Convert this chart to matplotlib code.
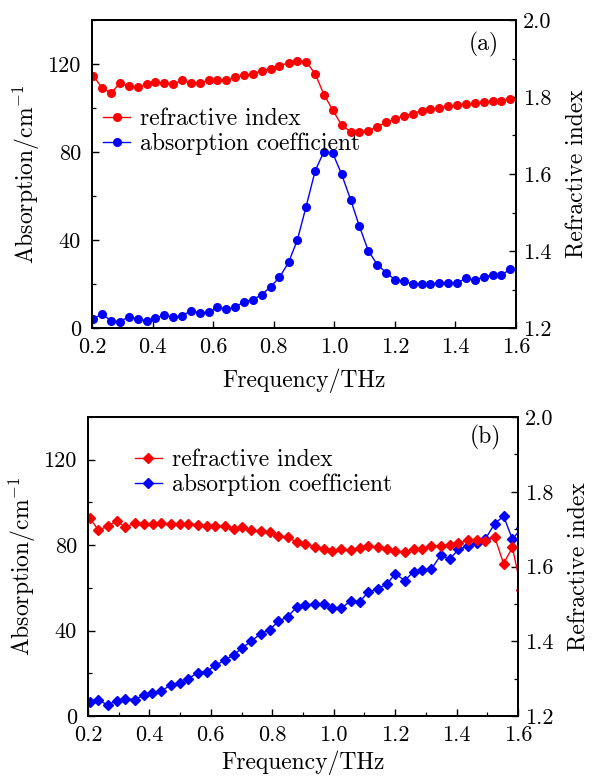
import matplotlib
matplotlib.use("Agg")
import matplotlib.pyplot as plt
from matplotlib.ticker import MultipleLocator

plt.rcParams['font.family'] = ['cmr10', 'DejaVu Serif']
plt.rcParams['mathtext.fontset'] = 'cm'
plt.rcParams['axes.formatter.use_mathtext'] = True
plt.rcParams['axes.unicode_minus'] = False

# ---------------- data: panel (a) ----------------
freq_a = [0.204, 0.233, 0.263, 0.292, 0.321, 0.351, 0.380, 0.409, 0.438, 0.468,
          0.497, 0.526, 0.556, 0.585, 0.614, 0.644, 0.673, 0.702, 0.731, 0.761,
          0.790, 0.819, 0.849, 0.878, 0.907, 0.937, 0.966, 0.995, 1.024, 1.054,
          1.083, 1.112, 1.142, 1.171, 1.200, 1.230, 1.259, 1.288, 1.317, 1.347,
          1.376, 1.405, 1.435, 1.464, 1.493, 1.523, 1.552, 1.581]
n_a = [1.855, 1.824, 1.810, 1.836, 1.828, 1.825, 1.833, 1.839, 1.836, 1.833,
       1.843, 1.837, 1.836, 1.844, 1.844, 1.844, 1.851, 1.856, 1.860, 1.868,
       1.874, 1.881, 1.889, 1.894, 1.892, 1.860, 1.806, 1.766, 1.727, 1.710,
       1.708, 1.712, 1.723, 1.734, 1.743, 1.751, 1.757, 1.764, 1.769, 1.771,
       1.776, 1.778, 1.781, 1.784, 1.786, 1.790, 1.790, 1.794]
abs_a = [4.1, 6.4, 3.3, 2.9, 5.1, 4.1, 3.2, 4.5, 5.8, 4.8,
         5.6, 7.7, 7.0, 7.1, 9.4, 8.6, 9.4, 12.0, 12.9, 15.2,
         18.8, 23.0, 29.8, 40.0, 55.2, 71.5, 80.2, 79.4, 70.0, 58.3,
         46.2, 35.2, 28.8, 25.2, 22.0, 21.2, 20.0, 20.2, 19.8, 20.6,
         20.6, 20.5, 22.6, 21.7, 23.2, 24.1, 24.1, 26.7]

# ---------------- data: panel (b) ----------------
freq_b = [0.205, 0.234, 0.264, 0.293, 0.322, 0.352, 0.381, 0.410, 0.439, 0.469,
          0.498, 0.527, 0.557, 0.586, 0.615, 0.645, 0.674, 0.703, 0.732, 0.762,
          0.791, 0.820, 0.850, 0.879, 0.908, 0.938, 0.967, 0.996, 1.025, 1.055,
          1.084, 1.113, 1.143, 1.172, 1.201, 1.231, 1.260, 1.289, 1.318, 1.348,
          1.377, 1.406, 1.436, 1.465, 1.494, 1.524, 1.553, 1.582, 1.611]
n_b = [1.731, 1.697, 1.708, 1.721, 1.705, 1.716, 1.715, 1.713, 1.717, 1.713,
       1.713, 1.715, 1.711, 1.709, 1.709, 1.708, 1.701, 1.705, 1.697, 1.694,
       1.691, 1.681, 1.679, 1.665, 1.659, 1.653, 1.647, 1.641, 1.647, 1.644,
       1.649, 1.655, 1.651, 1.648, 1.641, 1.639, 1.647, 1.647, 1.655, 1.656,
       1.658, 1.663, 1.670, 1.672, 1.669, 1.679, 1.608, 1.651, 1.537]
abs_b = [6.4, 7.5, 5.1, 7.2, 8.1, 7.6, 9.8, 10.9, 11.5, 14.7,
         15.3, 17.5, 20.3, 20.8, 23.7, 26.1, 28.6, 32.0, 35.1, 38.5,
         40.4, 44.3, 46.5, 50.9, 52.2, 52.3, 52.6, 50.4, 50.4, 54.0,
         53.4, 58.1, 59.5, 61.7, 66.6, 63.4, 67.6, 68.5, 68.8, 75.2,
         73.4, 78.0, 79.6, 81.1, 83.0, 90.0, 93.6, 82.7, 88.0]

xticks = [0.2, 0.4, 0.6, 0.8, 1.0, 1.2, 1.4, 1.6]
lticks = [0, 40, 80, 120]
rticks = [1.2, 1.4, 1.6, 1.8, 2.0]

RED = '#ff0000'
BLUE = '#0000ff'
FS = 16
LFS = 17

fig = plt.figure(figsize=(5.95, 7.77), dpi=100)


def style(ax, ax2, xminor, xpad):
    ax.set_xlim(0.2, 1.6)
    ax.set_ylim(0, 140)
    ax2.set_ylim(1.2, 2.0)
    ax.set_xticks(xticks)
    ax.set_xticklabels([f"{t:.1f}" for t in xticks])
    ax.set_yticks(lticks)
    ax.set_yticklabels([str(t) for t in lticks])
    ax2.set_yticks(rticks)
    ax2.set_yticklabels([f"{t:.1f}" for t in rticks])
    ax.yaxis.set_minor_locator(MultipleLocator(20))
    ax2.yaxis.set_minor_locator(MultipleLocator(0.1))
    if xminor:
        ax.xaxis.set_minor_locator(MultipleLocator(0.1))
    for a in (ax, ax2):
        for s in a.spines.values():
            s.set_linewidth(1.4)
    ax.tick_params(axis='both', which='both', direction='in', labelsize=FS,
                   top=False, right=False)
    ax.tick_params(axis='y', which='major', pad=8)
    ax.tick_params(axis='x', which='major', pad=7)
    ax.tick_params(which='major', length=5, width=1.0)
    ax.tick_params(which='minor', length=3, width=0.9)
    ax2.tick_params(axis='y', which='both', direction='in', labelsize=FS)
    ax2.tick_params(which='major', length=5, width=1.0, pad=5)
    ax2.tick_params(which='minor', length=3, width=0.9)
    ax.set_xlabel('Frequency/THz', fontsize=LFS, labelpad=xpad)
    ax.set_ylabel(r'Absorption/cm$^{-1}$', fontsize=LFS, labelpad=4)
    ax2.set_ylabel('Refractive index', fontsize=LFS, labelpad=11)


# ---------------- panel (a) ----------------
axA = fig.add_axes([92 / 595, 1 - 328 / 777, 424 / 595, 308 / 777])
axA2 = axA.twinx()
lb_a, = axA.plot(freq_a, abs_a, '-o', color=BLUE, lw=1.0, ms=5.5,
                 label='absorption coefficient')
lr_a, = axA2.plot(freq_a, n_a, '-o', color=RED, lw=1.0, ms=5.5,
                  label='refractive index')
style(axA, axA2, xminor=False, xpad=8)
axA2.legend(handles=[lr_a, lb_a], loc='upper left', bbox_to_anchor=(0.026, 0.715),
            frameon=False, fontsize=LFS, borderpad=0, borderaxespad=0,
            handlelength=1.15, handletextpad=0.42, labelspacing=0.12)
axA.text(0.96, 0.92, '(a)', transform=axA.transAxes, fontsize=LFS,
         ha='right', va='center')

# ---------------- panel (b) ----------------
axB = fig.add_axes([88 / 595, 1 - 716 / 777, 430 / 595, 299 / 777])
axB2 = axB.twinx()
lb_b, = axB.plot(freq_b, abs_b, '-D', color=BLUE, lw=1.0, ms=4.8,
                 label='absorption coefficient')
lr_b, = axB2.plot(freq_b, n_b, '-D', color=RED, lw=1.0, ms=4.8,
                  label='refractive index')
style(axB, axB2, xminor=True, xpad=4)
axB2.legend(handles=[lr_b, lb_b], loc='upper left', bbox_to_anchor=(0.109, 0.893),
            frameon=False, fontsize=LFS, borderpad=0, borderaxespad=0,
            handlelength=1.15, handletextpad=0.42, labelspacing=0.12)
axB.text(0.96, 0.93, '(b)', transform=axB.transAxes, fontsize=LFS,
         ha='right', va='center')

fig.savefig('out.png', dpi=100)
